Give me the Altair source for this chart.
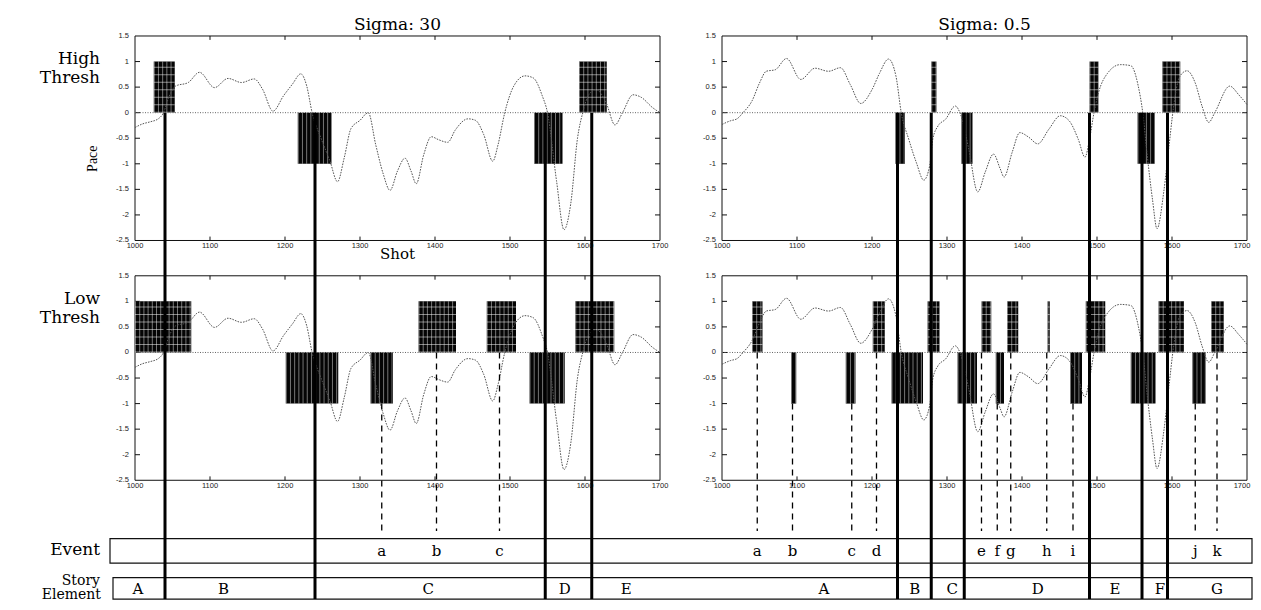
import altair as alt
import pandas as pd

# ---------------- data ----------------
X_TICKS = [1000, 1100, 1200, 1300, 1400, 1500, 1600, 1700]
Y_TICKS = [1.5, 1, 0.5, 0, -0.5, -1, -1.5, -2, -2.5]
Y_TICK_TEXT = ["1.5", "1", "0.5", "0", "-0.5", "-1", "-1.5", "-2", "-2.5"]
TITLES = ["Sigma: 30", "Sigma: 0.5"]
ROW_LABELS = [["High", "Thresh"], ["Low", "Thresh"]]

# pace curve, sigma 30 (left column)
S30_SHOT = [1000, 1010, 1020, 1031, 1038, 1045, 1054, 1071, 1086, 1106, 1124, 1142, 1159, 1170,
            1184, 1198, 1210, 1221, 1229, 1236, 1248, 1260, 1270, 1279, 1288, 1300, 1311, 1321,
            1331, 1340, 1350, 1360, 1368, 1375, 1385, 1395, 1405, 1417, 1427, 1444, 1454, 1465,
            1477, 1484, 1493, 1505, 1520, 1531, 1543, 1550, 1562, 1572, 1581, 1590, 1597, 1605,
            1615, 1628, 1640, 1650, 1664, 1675, 1690, 1700]
S30_PACE = [-0.29, -0.22, -0.18, -0.12, 0.0, 0.3, 0.52, 0.59, 0.79, 0.49, 0.67, 0.59, 0.66, 0.46,
            0.03, 0.33, 0.56, 0.76, 0.52, 0.01, -0.5, -0.95, -1.35, -0.88, -0.31, -0.15, 0.0, -0.63,
            -1.2, -1.52, -1.14, -0.89, -1.14, -1.39, -0.82, -0.47, -0.53, -0.58, -0.34, -0.12, -0.15, -0.43,
            -0.95, -0.63, 0.0, 0.52, 0.72, 0.68, 0.33, 0.0, -1.33, -2.29, -1.78, -0.5, 0.0, 0.35,
            0.45, 0.2, -0.24, 0.0, 0.35, 0.3, 0.1, 0.0]

# pace curve, sigma 0.5 (right column)
S05_SHOT = [1000, 1011, 1020, 1028, 1040, 1050, 1059, 1071, 1086, 1105, 1124, 1142, 1158, 1171,
            1185, 1200, 1210, 1222, 1232, 1239, 1249, 1259, 1269, 1277, 1281, 1288, 1298, 1311,
            1318, 1329, 1341, 1351, 1362, 1371, 1376, 1387, 1397, 1409, 1421, 1436, 1451, 1463,
            1475, 1484, 1490, 1496, 1502, 1514, 1531, 1545, 1555, 1561, 1567, 1574, 1580, 1589,
            1596, 1602, 1610, 1620, 1631, 1640, 1649, 1657, 1677, 1689, 1700]
S05_PACE = [-0.23, -0.16, -0.12, 0.0, 0.23, 0.58, 0.81, 0.84, 1.06, 0.65, 0.87, 0.81, 0.88, 0.55,
            0.18, 0.45, 0.77, 1.05, 0.71, 0.0, -0.52, -0.97, -1.32, -1.03, -0.52, -0.26, -0.13, 0.13,
            -0.03, -0.71, -1.55, -1.16, -0.81, -1.1, -1.26, -0.77, -0.39, -0.48, -0.61, -0.32, -0.06, -0.16,
            -0.52, -0.87, -0.52, 0.0, 0.39, 0.77, 0.94, 0.92, 0.52, 0.0, -0.84, -1.7, -2.27, -1.55,
            -0.65, 0.1, 0.7, 0.82, 0.58, 0.13, -0.19, 0.0, 0.52, 0.35, 0.16]

# threshold runs: start shot, end shot, sign
S30_HIGH_START = [1025, 1217, 1532, 1592]
S30_HIGH_END = [1053, 1262, 1570, 1629]
S30_HIGH_SIGN = [1, -1, -1, 1]
S05_HIGH_START = [1231, 1279, 1319, 1490, 1554, 1587]
S05_HIGH_END = [1244, 1286, 1334, 1502, 1577, 1611]
S05_HIGH_SIGN = [-1, 1, -1, 1, -1, 1]
S30_LOW_START = [1000, 1201, 1314, 1378, 1469, 1526, 1587]
S30_LOW_END = [1075, 1271, 1344, 1428, 1508, 1573, 1639]
S30_LOW_SIGN = [1, -1, -1, 1, 1, -1, 1]
S05_LOW_START = [1040, 1092, 1165, 1201, 1226, 1274, 1314, 1346, 1365, 1380, 1434, 1464, 1485, 1545, 1582, 1627, 1652]
S05_LOW_END = [1054, 1099, 1178, 1217, 1268, 1290, 1340, 1359, 1376, 1395, 1437, 1480, 1511, 1578, 1616, 1645, 1669]
S05_LOW_SIGN = [1, -1, -1, 1, -1, 1, -1, 1, -1, 1, 1, -1, 1, -1, 1, -1, 1]

# story element boundaries (thick lines)
S30_BOUNDS = [1040, 1240, 1547, 1609]
S05_BOUNDS = [1234, 1279, 1323, 1490, 1560, 1594]

# events (dashed lines)
S30_EVENT_SHOT = [1329, 1402, 1486]
S30_EVENT_DIR = [-1, 1, 1]
S30_EVENT_LABEL = ["a", "b", "c"]
S05_EVENT_SHOT = [1047, 1094, 1173, 1206, 1346, 1367, 1385, 1433, 1468, 1631, 1660]
S05_EVENT_DIR = [1, -1, -1, 1, 1, -1, 1, 1, -1, -1, 1]
S05_EVENT_LABEL = ["a", "b", "c", "d", "e", "f", "g", "h", "i", "j", "k"]

# story element labels
S30_STORY_LABEL = ["A", "B", "C", "D", "E"]
S30_STORY_POS = [1004, 1118, 1391, 1573, 1655]
S05_STORY_LABEL = ["A", "B", "C", "D", "E", "F", "G"]
S05_STORY_POS = [1136, 1257, 1307, 1421, 1524, 1584, 1660]

# ---------------- layout ----------------
W, H = 1245, 594
COL_LEFT = [135, 722]          # pixel of shot 1000 in each column
ROW_ZERO = [107.5, 353.75]     # pixel of pace 0 in each row
PX_SHOT = 0.75
PX_PACE = 52.5
BLOCK_PX = PX_PACE * H / 610.0

EVENT_BOX = (110, 1252, 545, 570)
STORY_BOX = (113, 1252, 585, 607)
DASH_END = 537

SERIF = "DejaVu Serif"
SANS = "Liberation Sans"


def gx(shot, col):
    return COL_LEFT[col] + (shot - 1000) * PX_SHOT


def gy(pace, row):
    return ROW_ZERO[row] - pace * PX_PACE


XS = alt.Scale(domain=[8, 1253], nice=False, zero=False)
YS = alt.Scale(domain=[0, 610], nice=False, zero=False, reverse=True)


def enc(ch):
    e = {"x": alt.X("x:Q", scale=XS, axis=None), "y": alt.Y("y:Q", scale=YS, axis=None)}
    if "x2" in ch:
        e["x2"] = alt.X2("x2:Q")
    if "y2" in ch:
        e["y2"] = alt.Y2("y2:Q")
    return e


layers = []

# frames
frames = pd.DataFrame([{"x": gx(1000, c), "x2": gx(1700, c), "y": gy(1.5, r), "y2": gy(-2.5, r)}
                       for c in (0, 1) for r in (0, 1)])
layers.append(alt.Chart(frames).mark_rect(fillOpacity=0, stroke="#111", strokeWidth=1)
              .encode(**enc(["x2", "y2"])))

# tick marks
tk = []
for c in (0, 1):
    for r in (0, 1):
        for v in Y_TICKS[1:-1]:
            tk.append({"x": gx(1000, c), "x2": gx(1000, c) + 5, "y": gy(v, r), "y2": gy(v, r)})
            tk.append({"x": gx(1700, c) - 5, "x2": gx(1700, c), "y": gy(v, r), "y2": gy(v, r)})
        for t in X_TICKS[1:-1]:
            tk.append({"x": gx(t, c), "x2": gx(t, c), "y": gy(-2.5, r), "y2": gy(-2.5, r) - 4})
            tk.append({"x": gx(t, c), "x2": gx(t, c), "y": gy(1.5, r), "y2": gy(1.5, r) + 4})
layers.append(alt.Chart(pd.DataFrame(tk)).mark_rule(color="#111", strokeWidth=1)
              .encode(**enc(["x2", "y2"])))

# tick labels
yl, xl = [], []
for c in (0, 1):
    for r in (0, 1):
        for v, t in zip(Y_TICKS, Y_TICK_TEXT):
            yl.append({"x": gx(1000, c) - 6, "y": gy(v, r), "t": t})
        for t in X_TICKS:
            shift = -5 if (c == 1 and t == X_TICKS[-1]) else 0
            xl.append({"x": gx(t, c) + shift, "y": gy(-2.5, r) + 1.5, "t": str(t)})
layers.append(alt.Chart(pd.DataFrame(yl)).mark_text(align="right", baseline="middle", font=SANS,
                                                     fontSize=7.5, color="#222")
              .encode(text="t:N", **enc([])))
layers.append(alt.Chart(pd.DataFrame(xl)).mark_text(align="center", baseline="top", font=SANS,
                                                     fontSize=7.5, color="#222")
              .encode(text="t:N", **enc([])))

# zero lines
zl = pd.DataFrame([{"x": gx(1000, c), "x2": gx(1700, c), "y": gy(0, r)} for c in (0, 1) for r in (0, 1)])
layers.append(alt.Chart(zl).mark_rule(color="#666", strokeWidth=1, strokeDash=[1, 1.5])
              .encode(**enc(["x2"])))

# threshold blocks
RUNS = {
    (0, 0): (S30_HIGH_START, S30_HIGH_END, S30_HIGH_SIGN),
    (1, 0): (S05_HIGH_START, S05_HIGH_END, S05_HIGH_SIGN),
    (0, 1): (S30_LOW_START, S30_LOW_END, S30_LOW_SIGN),
    (1, 1): (S05_LOW_START, S05_LOW_END, S05_LOW_SIGN),
}
blk, vstr, hstr = [], [], []
for (c, r), (st, en, sg) in RUNS.items():
    for s, e, g in zip(st, en, sg):
        blk.append({"x": gx(s, c), "x2": gx(e, c), "y": gy(0, r), "y2": gy(g, r)})
        vstr.append({"x": gx(s, c), "x2": gx(e, c), "y": gy(0.5 * g, r)})
        if g > 0:
            hstr.append({"x": gx((s + e) / 2, c), "y": gy(0, r), "y2": gy(1, r),
                         "w": (e - s) * PX_SHOT})
layers.append(alt.Chart(pd.DataFrame(blk)).mark_rect(color="#050505").encode(**enc(["x2", "y2"])))
layers.append(alt.Chart(pd.DataFrame(vstr)).mark_rule(color="white", opacity=0.45,
                                                       strokeWidth=BLOCK_PX, strokeDash=[1, 3.2])
              .encode(**enc(["x2"])))
layers.append(alt.Chart(pd.DataFrame(hstr)).mark_rule(color="white", opacity=0.5, strokeDash=[1, 6.5])
              .encode(strokeWidth=alt.StrokeWidth("w:Q", scale=None, legend=None), **enc(["y2"])))

# curves
cr = []
for c, (sh, pa) in enumerate([(S30_SHOT, S30_PACE), (S05_SHOT, S05_PACE)]):
    for r in (0, 1):
        for i, (s, p) in enumerate(zip(sh, pa)):
            cr.append({"k": f"{c}{r}", "o": i, "x": gx(s, c), "y": gy(p, r)})
layers.append(alt.Chart(pd.DataFrame(cr)).mark_line(color="#555", strokeWidth=1,
                                                     strokeDash=[1.6, 1.2], interpolate="monotone")
              .encode(detail="k:N", order="o:Q", **enc([])))

# boxes
bx = pd.DataFrame([{"x": b[0], "x2": b[1], "y": b[2], "y2": b[3]} for b in (EVENT_BOX, STORY_BOX)])
layers.append(alt.Chart(bx).mark_rect(fillOpacity=0, stroke="#111", strokeWidth=1.2)
              .encode(**enc(["x2", "y2"])))

# thick story-element lines
tl = []
for c, bounds in enumerate([S30_BOUNDS, S05_BOUNDS]):
    for b in bounds:
        tl.append({"x": gx(b, c), "y": gy(0, 0), "y2": STORY_BOX[3]})
layers.append(alt.Chart(pd.DataFrame(tl)).mark_rule(color="#000", strokeWidth=3)
              .encode(**enc(["y2"])))

# dashed event lines + labels
dl, el = [], []
for c, (sh, dr, lb) in enumerate([(S30_EVENT_SHOT, S30_EVENT_DIR, S30_EVENT_LABEL),
                                  (S05_EVENT_SHOT, S05_EVENT_DIR, S05_EVENT_LABEL)]):
    for s, d, l in zip(sh, dr, lb):
        dl.append({"x": gx(s, c), "y": gy(0 if d > 0 else -1, 1), "y2": DASH_END})
        el.append({"x": gx(s, c), "y": (EVENT_BOX[2] + EVENT_BOX[3]) / 2, "t": l})
layers.append(alt.Chart(pd.DataFrame(dl)).mark_rule(color="#000", strokeWidth=1.3, strokeDash=[6, 5])
              .encode(**enc(["y2"])))
layers.append(alt.Chart(pd.DataFrame(el)).mark_text(font=SERIF, fontSize=15, color="#000",
                                                     baseline="middle", align="center")
              .encode(text="t:N", **enc([])))

# story labels
sl = []
for c, (lb, ps) in enumerate([(S30_STORY_LABEL, S30_STORY_POS), (S05_STORY_LABEL, S05_STORY_POS)]):
    for l, p in zip(lb, ps):
        sl.append({"x": gx(p, c), "y": (STORY_BOX[2] + STORY_BOX[3]) / 2 + 0.5, "t": l})
layers.append(alt.Chart(pd.DataFrame(sl)).mark_text(font=SERIF, fontSize=15, color="#000",
                                                     baseline="middle", align="center")
              .encode(text="t:N", **enc([])))

# titles and side labels
tt = pd.DataFrame([{"x": gx(1350, c), "y": 23, "t": TITLES[c]} for c in (0, 1)])
layers.append(alt.Chart(tt).mark_text(font=SERIF, fontSize=17, color="#000", baseline="alphabetic")
              .encode(text="t:N", **enc([])))

side = []
for r in (0, 1):
    for i, line in enumerate(ROW_LABELS[r]):
        side.append({"x": 100, "y": ROW_ZERO[r] - 50 + i * 20, "t": line})
side.append({"x": 100, "y": 562, "t": "Event"})
layers.append(alt.Chart(pd.DataFrame(side)).mark_text(font=SERIF, fontSize=17, color="#000",
                                                       align="right", baseline="alphabetic")
              .encode(text="t:N", **enc([])))

side2 = pd.DataFrame([{"x": 100, "y": 593, "t": "Story"}, {"x": 101, "y": 607, "t": "Element"}])
layers.append(alt.Chart(side2).mark_text(font=SERIF, fontSize=14, color="#000",
                                          align="right", baseline="alphabetic")
              .encode(text="t:N", **enc([])))

pace = pd.DataFrame([{"x": 93, "y": gy(-0.9, 0), "t": "Pace"}])
layers.append(alt.Chart(pace).mark_text(font="Liberation Serif", fontSize=14, color="#000",
                                         angle=270, baseline="middle", align="center")
              .encode(text="t:N", **enc([])))
shot = pd.DataFrame([{"x": gx(1350, 0), "y": 258, "t": "Shot"}])
layers.append(alt.Chart(shot).mark_text(font=SERIF, fontSize=15, color="#000", baseline="alphabetic")
              .encode(text="t:N", **enc([])))

chart = (alt.layer(*layers)
         .properties(width=W, height=H, padding=0, background="white",
                     autosize=alt.AutoSizeParams(type="none"))
         .configure_view(stroke=None))

chart.save("out.html", embed_options={"renderer": "svg", "actions": False})
